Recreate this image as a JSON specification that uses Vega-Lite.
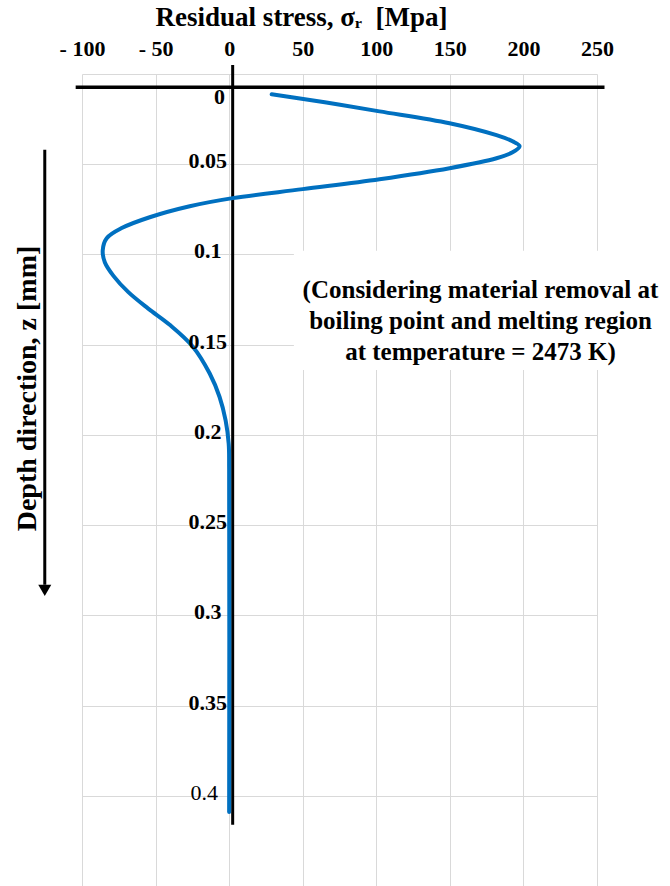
{
  "$schema": "https://vega.github.io/schema/vega-lite/v6.json",
  "width": 515,
  "height": 812,
  "autosize": {"type": "none"},
  "padding": {"left": 82, "top": 74, "right": 73, "bottom": 0},
  "background": "white",
  "config": {"view": {"stroke": null}, "font": "Liberation Serif"},
  "datasets": {
    "curve": [
      {"stress": 28.9, "z": 0.0112},
      {"stress": 65, "z": 0.0157},
      {"stress": 102.2, "z": 0.0207},
      {"stress": 149.8, "z": 0.0273},
      {"stress": 181.7, "z": 0.0339},
      {"stress": 192.6, "z": 0.0373},
      {"stress": 197.4, "z": 0.040},
      {"stress": 192.6, "z": 0.0434},
      {"stress": 181.7, "z": 0.0467},
      {"stress": 149.8, "z": 0.0522},
      {"stress": 102.2, "z": 0.0583},
      {"stress": 50, "z": 0.0638},
      {"stress": 2.4, "z": 0.0688},
      {"stress": -26.8, "z": 0.0733},
      {"stress": -54, "z": 0.0794},
      {"stress": -73, "z": 0.0854},
      {"stress": -83.2, "z": 0.091},
      {"stress": -85.9, "z": 0.0976},
      {"stress": -84.5, "z": 0.1043},
      {"stress": -78.5, "z": 0.112},
      {"stress": -68.5, "z": 0.1209},
      {"stress": -55, "z": 0.130},
      {"stress": -40.4, "z": 0.139},
      {"stress": -24.8, "z": 0.151},
      {"stress": -13.2, "z": 0.166},
      {"stress": -6.5, "z": 0.179},
      {"stress": -2.4, "z": 0.192},
      {"stress": -0.3, "z": 0.205},
      {"stress": 0, "z": 0.219},
      {"stress": 0, "z": 0.409}
    ],
    "ylabels": [
      {"x": -6.5, "z": 0.0146, "label": "0"},
      {"x": -14.5, "z": 0.05, "label": "0.05"},
      {"x": -14.5, "z": 0.1, "label": "0.1"},
      {"x": -14.5, "z": 0.15, "label": "0.15"},
      {"x": -14.5, "z": 0.2, "label": "0.2"},
      {"x": -14.5, "z": 0.25, "label": "0.25"},
      {"x": -14.5, "z": 0.3, "label": "0.3"},
      {"x": -14.5, "z": 0.35, "label": "0.35"}
    ]
  },
  "layer": [
    {
      "data": {"name": "curve"},
      "mark": {"type": "line", "opacity": 0},
      "encoding": {
        "x": {
          "field": "stress", "type": "quantitative",
          "scale": {"domain": [-100, 250], "nice": false, "zero": false},
          "axis": {
            "orient": "top", "values": [-100, -50, 0, 50, 100, 150, 200, 250],
            "labelExpr": "datum.value < 0 ? '- ' + (-datum.value) : '' + datum.value",
            "labelFont": "Liberation Serif", "labelFontWeight": "bold", "labelFontSize": 22, "labelColor": "black",
            "labelFlush": false, "labelOverlap": false,
            "domain": false, "ticks": false, "tickSize": 0, "labelPadding": 14,
            "grid": true, "gridColor": "#d9d9d9", "gridWidth": 1,
            "title": "Residual stress, σᵣ\u00a0\u00a0[Mpa]",
            "titleFont": "Liberation Serif", "titleFontWeight": "bold", "titleFontSize": 27, "titleColor": "black",
            "titlePadding": 6, "titleX": 219
          }
        },
        "y": {
          "field": "z", "type": "quantitative",
          "scale": {"domain": [0, 0.45], "nice": false, "reverse": true},
          "axis": {
            "orient": "left", "values": [0, 0.05, 0.1, 0.15, 0.2, 0.25, 0.3, 0.35, 0.4, 0.45],
            "labels": false, "domain": false, "ticks": false,
            "grid": true, "gridColor": "#d9d9d9", "gridWidth": 1,
            "title": "Depth direction, z [mm]",
            "titleFont": "Liberation Serif", "titleFontWeight": "bold", "titleFontSize": 28, "titleColor": "black",
            "titleX": -55, "titleY": 314, "titleAngle": -90, "titleAlign": "center", "titleBaseline": "middle"
          }
        },
        "order": {"field": "z", "type": "quantitative"}
      }
    },
    {
      "data": {"values": [{"x1": 44, "x2": 300, "z1": 0.098, "z2": 0.164}]},
      "mark": {"type": "rect", "fill": "white", "clip": false},
      "encoding": {
        "x": {"field": "x1", "type": "quantitative"},
        "x2": {"field": "x2"},
        "y": {"field": "z1", "type": "quantitative"},
        "y2": {"field": "z2"}
      }
    },
    {
      "data": {"values": [{"x1": -104.3, "x2": 255.1, "z": 0.0074}]},
      "mark": {"type": "rule", "color": "black", "strokeWidth": 3.5, "clip": false},
      "encoding": {
        "x": {"field": "x1", "type": "quantitative"},
        "x2": {"field": "x2"},
        "y": {"field": "z", "type": "quantitative"}
      }
    },
    {
      "data": {"values": [{"x": 2.4, "z1": -0.005, "z2": 0.416}]},
      "mark": {"type": "rule", "color": "black", "strokeWidth": 3, "clip": false},
      "encoding": {
        "x": {"field": "x", "type": "quantitative"},
        "y": {"field": "z1", "type": "quantitative"},
        "y2": {"field": "z2"}
      }
    },
    {
      "data": {"values": [{"x": -125.3, "z1": 0.042, "z2": 0.283}]},
      "mark": {"type": "rule", "color": "black", "strokeWidth": 3, "clip": false},
      "encoding": {
        "x": {"field": "x", "type": "quantitative"},
        "y": {"field": "z1", "type": "quantitative"},
        "y2": {"field": "z2"}
      }
    },
    {
      "data": {"values": [{"x": -125.3, "z": 0.2862}]},
      "mark": {"type": "point", "shape": "triangle-down", "filled": true, "color": "black", "opacity": 1, "size": 170, "clip": false},
      "encoding": {
        "x": {"field": "x", "type": "quantitative"},
        "y": {"field": "z", "type": "quantitative"}
      }
    },
    {
      "data": {"name": "curve"},
      "mark": {"type": "line", "color": "#0070c0", "strokeWidth": 4, "interpolate": "catmull-rom", "strokeCap": "round"},
      "encoding": {
        "x": {"field": "stress", "type": "quantitative"},
        "y": {"field": "z", "type": "quantitative"},
        "order": {"field": "z", "type": "quantitative"}
      }
    },
    {
      "data": {"name": "ylabels"},
      "mark": {"type": "text", "font": "Liberation Serif", "fontWeight": "bold", "fontSize": 22, "color": "black", "align": "center", "baseline": "middle", "dy": -3},
      "encoding": {
        "x": {"field": "x", "type": "quantitative"},
        "y": {"field": "z", "type": "quantitative"},
        "text": {"field": "label"}
      }
    },
    {
      "data": {"values": [{"x": -17, "z": 0.4, "label": "0.4"}]},
      "mark": {"type": "text", "font": "Liberation Serif", "fontWeight": "normal", "fontSize": 22, "color": "black", "align": "center", "baseline": "middle", "dy": -3},
      "encoding": {
        "x": {"field": "x", "type": "quantitative"},
        "y": {"field": "z", "type": "quantitative"},
        "text": {"field": "label"}
      }
    },
    {
      "data": {"values": [{"x": 170.8, "z": 0.1198, "label": "(Considering material removal at\nboiling point and melting region\nat temperature = 2473 K)"}]},
      "mark": {"type": "text", "font": "Liberation Serif", "fontWeight": "bold", "fontSize": 25, "color": "black", "align": "center", "baseline": "middle", "lineBreak": "\n", "lineHeight": 31, "clip": false},
      "encoding": {
        "x": {"field": "x", "type": "quantitative"},
        "y": {"field": "z", "type": "quantitative"},
        "text": {"field": "label"}
      }
    }
  ]
}
